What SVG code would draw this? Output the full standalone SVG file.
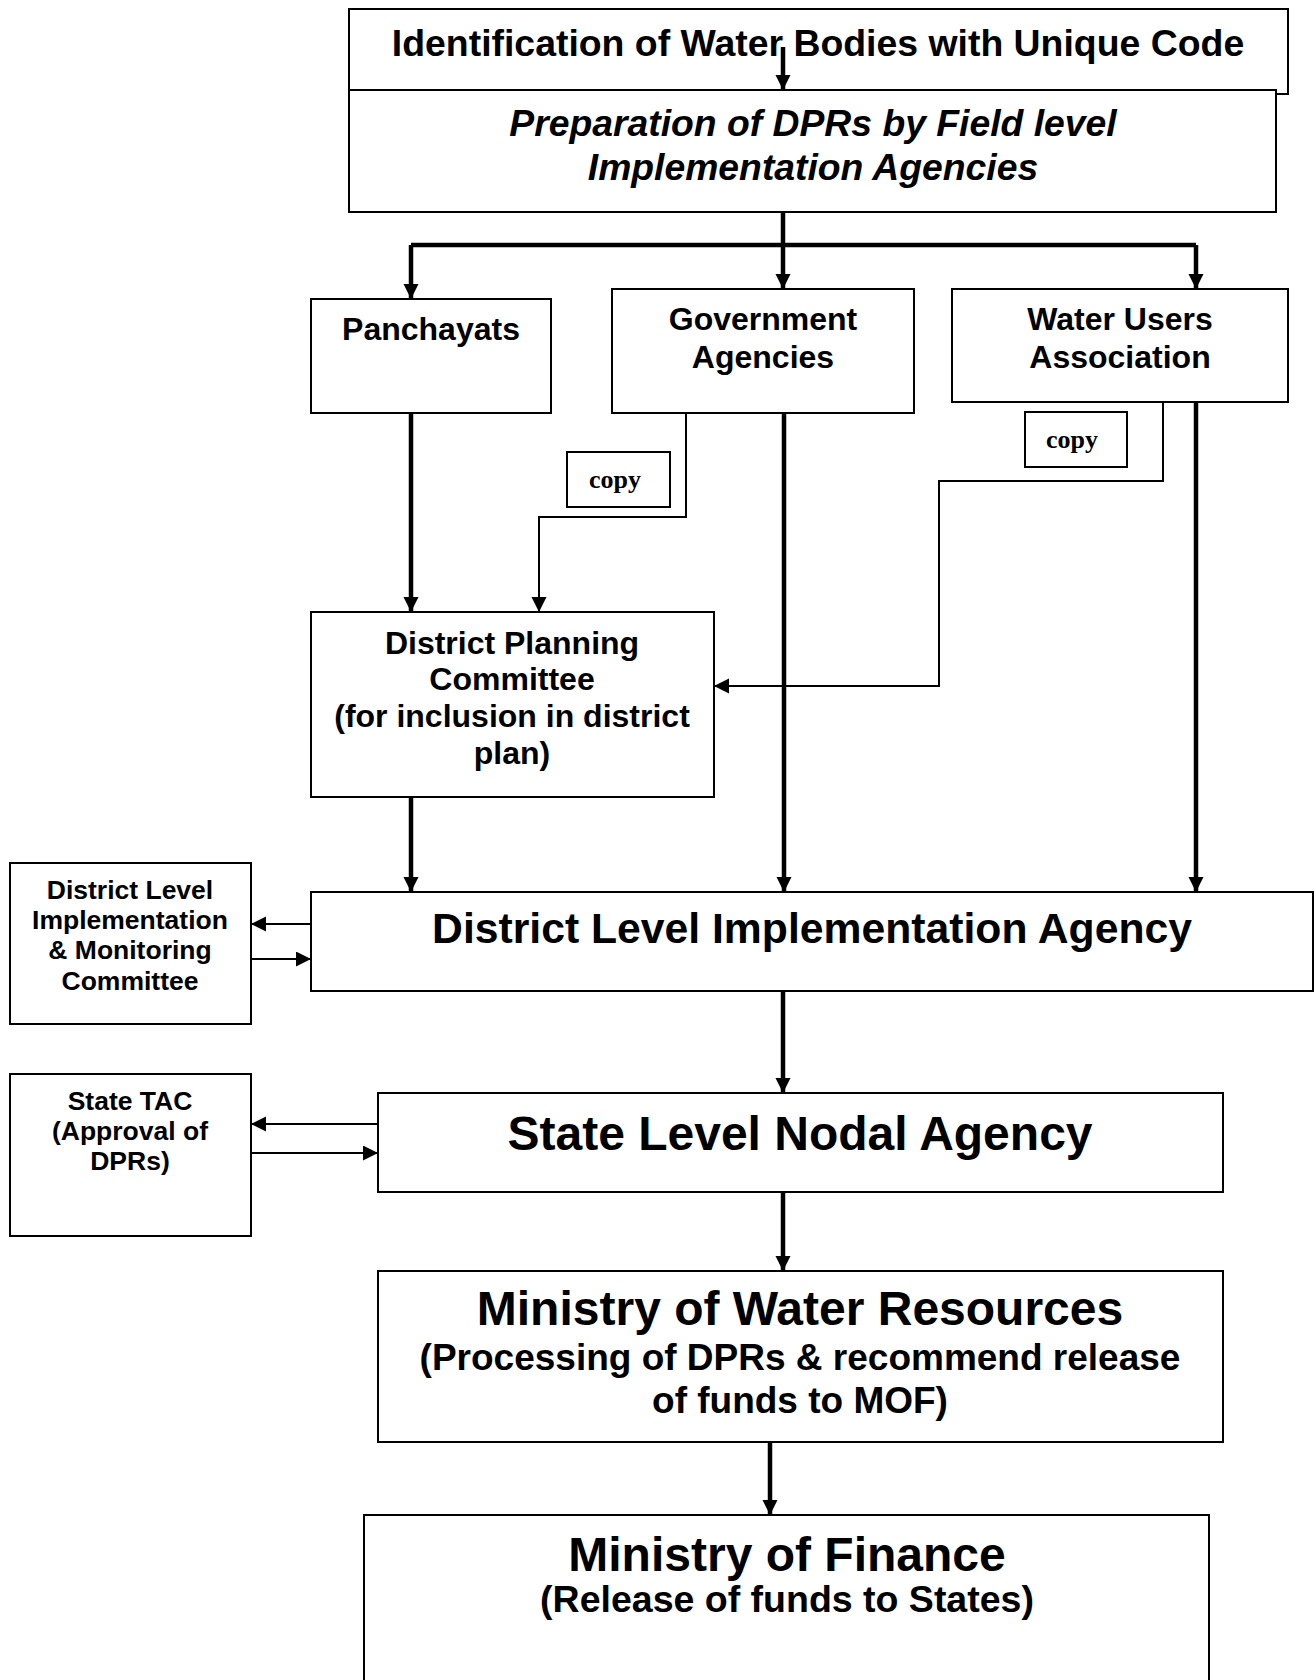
<svg xmlns="http://www.w3.org/2000/svg" width="1315" height="1680" viewBox="0 0 1315 1680">
<style>
.box{fill:#fff;stroke:#000;stroke-width:2}
.t{font-family:"Liberation Sans",Arial,sans-serif;font-weight:bold;fill:#000;text-anchor:middle}
.cp{font-family:"Liberation Serif","Times New Roman",serif;font-weight:bold;fill:#000;text-anchor:middle;font-size:26px}
.thick{fill:none;stroke:#000;stroke-width:4.5}
.thin{fill:none;stroke:#000;stroke-width:2}
</style>
<defs>
<marker id="ah" markerUnits="userSpaceOnUse" markerWidth="16" markerHeight="16" refX="15" refY="7.5" orient="auto" viewBox="0 0 16 16">
<path d="M0,0 L15,7.5 L0,15 z" fill="#000"/>
</marker>
<marker id="ahs" markerUnits="userSpaceOnUse" markerWidth="16" markerHeight="16" refX="15" refY="7.5" orient="auto" viewBox="0 0 16 16">
<path d="M0,0 L15,7.5 L0,15 z" fill="#000"/>
</marker>
</defs>

<g id="identification">
<rect class="box" x="349" y="9" width="939" height="85"/>
<text class="t" x="818" y="56" font-size="37.4">Identification of Water Bodies with Unique Code</text>
</g>
<g id="preparation">
<rect class="box" x="349" y="90" width="927" height="122"/>
<text class="t" x="813" y="136" font-size="37.3" font-style="italic">Preparation of DPRs by Field level</text>
<text class="t" x="813" y="180" font-size="37.3" font-style="italic">Implementation Agencies</text>
</g>
<g id="panchayats">
<rect class="box" x="311" y="299" width="240" height="114"/>
<text class="t" x="431" y="340" font-size="32">Panchayats</text>
</g>
<g id="government">
<rect class="box" x="612" y="289" width="302" height="124"/>
<text class="t" x="763" y="330" font-size="32">Government</text>
<text class="t" x="763" y="368" font-size="32">Agencies</text>
</g>
<g id="wua">
<rect class="box" x="952" y="289" width="336" height="113"/>
<text class="t" x="1120" y="330" font-size="32">Water Users</text>
<text class="t" x="1120" y="368" font-size="32">Association</text>
</g>
<g id="copy1">
<rect class="box" x="567" y="452" width="103" height="55"/>
<text class="cp" x="615" y="488">copy</text>
</g>
<g id="copy2">
<rect class="box" x="1025" y="412" width="102" height="55"/>
<text class="cp" x="1072" y="448">copy</text>
</g>
<g id="dpc">
<rect class="box" x="311" y="612" width="403" height="185"/>
<text class="t" x="512" y="654" font-size="32">District Planning</text>
<text class="t" x="512" y="690" font-size="32">Committee</text>
<text class="t" x="512" y="727" font-size="32">(for inclusion in district</text>
<text class="t" x="512" y="764" font-size="32">plan)</text>
</g>
<g id="dlia">
<rect class="box" x="311" y="892" width="1002" height="99"/>
<text class="t" x="812" y="943" font-size="42.7">District Level Implementation Agency</text>
</g>
<g id="dlimc">
<rect class="box" x="10" y="863" width="241" height="161"/>
<text class="t" x="130" y="899" font-size="26.5">District Level</text>
<text class="t" x="130" y="929" font-size="26.5">Implementation</text>
<text class="t" x="130" y="959" font-size="26.5">&amp; Monitoring</text>
<text class="t" x="130" y="990" font-size="26.5">Committee</text>
</g>
<g id="tac">
<rect class="box" x="10" y="1074" width="241" height="162"/>
<text class="t" x="130" y="1110" font-size="26.5">State TAC</text>
<text class="t" x="130" y="1140" font-size="26.5">(Approval of</text>
<text class="t" x="130" y="1170" font-size="26.5">DPRs)</text>
</g>
<g id="slna">
<rect class="box" x="378" y="1093" width="845" height="99"/>
<text class="t" x="800" y="1150" font-size="48">State Level Nodal Agency</text>
</g>
<g id="mwr">
<rect class="box" x="378" y="1271" width="845" height="171"/>
<text class="t" x="800" y="1325" font-size="48">Ministry of Water Resources</text>
<text class="t" x="800" y="1370" font-size="37">(Processing of DPRs &amp; recommend release</text>
<text class="t" x="800" y="1413" font-size="37">of funds to MOF)</text>
</g>
<g id="mof">
<rect class="box" x="364" y="1515" width="845" height="200"/>
<text class="t" x="787" y="1571" font-size="48">Ministry of Finance</text>
<text class="t" x="787" y="1612" font-size="37.5">(Release of funds to States)</text>
</g>

<g id="connectors">
<path class="thick" d="M783,47 V90" marker-end="url(#ah)"/>
<path class="thick" d="M783,212 V245"/>
<path class="thick" d="M411,245 H1196"/>
<path class="thick" d="M411,245 V299" marker-end="url(#ah)"/>
<path class="thick" d="M783,245 V289" marker-end="url(#ah)"/>
<path class="thick" d="M1196,245 V289" marker-end="url(#ah)"/>
<path class="thick" d="M411,413 V612" marker-end="url(#ah)"/>
<path class="thin" d="M686,413 V517 H539 V612" marker-end="url(#ahs)"/>
<path class="thick" d="M784,413 V892" marker-end="url(#ah)"/>
<path class="thin" d="M1163,402 V481 H939 V686 H714" marker-end="url(#ahs)"/>
<path class="thick" d="M1196,402 V892" marker-end="url(#ah)"/>
<path class="thick" d="M411,797 V892" marker-end="url(#ah)"/>
<path class="thin" d="M311,924 H251" marker-end="url(#ahs)"/>
<path class="thin" d="M251,959 H311" marker-end="url(#ahs)"/>
<path class="thick" d="M783,991 V1093" marker-end="url(#ah)"/>
<path class="thin" d="M378,1124 H251" marker-end="url(#ahs)"/>
<path class="thin" d="M251,1153 H378" marker-end="url(#ahs)"/>
<path class="thick" d="M783,1192 V1271" marker-end="url(#ah)"/>
<path class="thick" d="M770,1442 V1515" marker-end="url(#ah)"/>
</g>
</svg>
